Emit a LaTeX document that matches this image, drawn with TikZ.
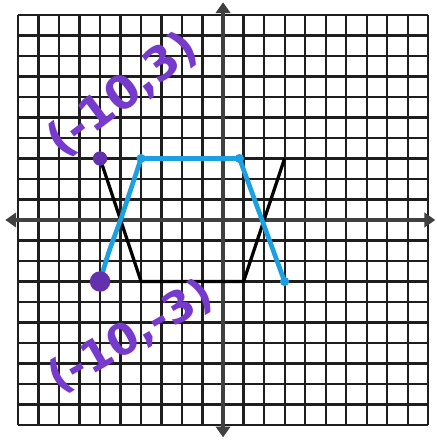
\documentclass[tikz,border=0pt]{standalone}
\usepackage{fontspec}
\setmainfont{DejaVu Sans}
\usetikzlibrary{arrows.meta}
\definecolor{penblue}{RGB}{28,160,226}
\definecolor{penpurple}{RGB}{118,58,205}
\definecolor{gridink}{RGB}{30,30,30}
\tikzset{
  gridline/.style={gridink, line width=3pt},
  axisline/.style={gridink!85, line width=5pt, {Triangle[width=20pt,length=15pt]}-{Triangle[width=20pt,length=15pt]}},
  blackgraph/.style={black, line width=4.5pt, line join=round},
  bluegraph/.style={penblue, line width=6.5pt, line join=round, line cap=round},
  purpledot/.style={circle, fill=penpurple!85!black, inner sep=0pt},
  bluedot/.style={circle, fill=penblue, inner sep=0pt, minimum size=0.45cm},
  labeltext/.style={text=penpurple, font=\bfseries\fontsize{64}{64}\selectfont, inner sep=0pt}
}
\begin{document}
\begin{tikzpicture}
\useasboundingbox[fill=white] (-10.88,-10.73) rectangle (10.39,10.73);
% grid
\foreach \k in {-10,...,10} {
  \draw[gridline] (\k,-10) -- (\k,10);
  \draw[gridline] (-10,\k) -- (10,\k);
}
% axes
\coordinate (xl) at (-10.62,0);
\coordinate (xr) at (10.35,0);
\coordinate (yb) at (0,-10.6);
\coordinate (yt) at (0,10.62);
\draw[axisline] (xl) -- (xr);
\draw[axisline] (yb) -- (yt);
% black graph
\coordinate (b1) at (-6,3);
\coordinate (b2) at (-4,-3);
\coordinate (b3) at (1,-3);
\coordinate (b4) at (3,3);
\draw[blackgraph] (b1) -- (b2) -- (b3) -- (b4);
% blue graph
\coordinate (c1) at (-6,-3);
\coordinate (c2) at (-5,0);
\coordinate (c3) at (-4,3);
\coordinate (c4) at (0.8,3);
\coordinate (c5) at (1.9,0);
\coordinate (c6) at (3,-3);
\draw[bluegraph] (c1) .. controls (-5.6,-1.6) .. (c2) -- (c3) -- (c4) -- (c5) -- (c6);
\node[bluedot] (d3) at (c3) {};
\node[bluedot] (d4) at (c4) {};
\node[bluedot] (d6) at (c6) {};
% purple points
\node[purpledot, minimum size=0.7cm] (p1) at (b1) {};
\node[purpledot, minimum size=1.0cm] (p2) at (c1) {};
% labels
\node[labeltext, rotate=37] (l1) at (-4.9,6.1) {(-10,3)};
\node[labeltext, rotate=30, font=\bfseries\fontsize{60}{60}\selectfont] (l2) at (-4.5,-5.7) {(-10,-3)};
\end{tikzpicture}
\end{document}
